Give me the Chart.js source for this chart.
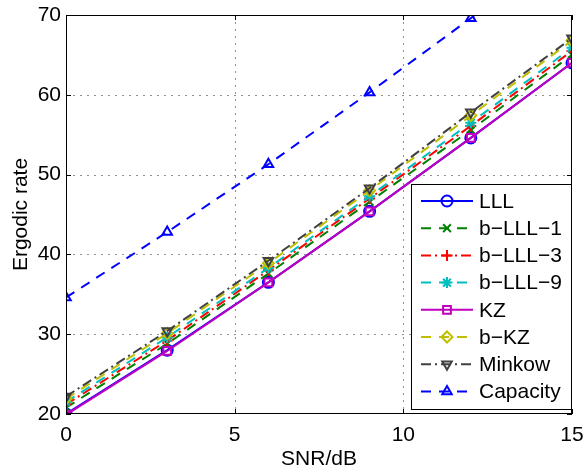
<!DOCTYPE html>
<html>
<head>
<meta charset="utf-8">
<script src="https://cdn.jsdelivr.net/npm/chart.js@4"></script>
<style>
  html, body { margin: 0; padding: 0; background: #fff; }
  #wrap { width: 585px; height: 472px; }
</style>
</head>
<body>
<div id="wrap"><canvas id="rate-chart" width="585" height="472"></canvas></div>
<script>
// SNR points (dB)
const snr = [0, 3, 6, 9, 12, 15];

// ergodic rate per detector
const lll      = [20.0, 28.0, 36.5, 45.4, 54.6, 64.0];
const blll1    = [20.8, 28.8, 37.6, 46.6, 55.6, 65.0];
const blll3    = [21.2, 29.2, 38.0, 47.0, 56.1, 65.5];
const blll9    = [21.5, 29.6, 38.3, 47.3, 56.5, 65.9];
const kz       = [19.9, 27.9, 36.5, 45.4, 54.6, 64.0];
const bkz      = [21.9, 30.1, 38.9, 48.0, 57.4, 66.8];
const minkow   = [22.2, 30.4, 39.2, 48.3, 57.8, 67.1];
const capacity = [34.6, 42.8, 51.3, 60.3, 69.6, 78.8];

const names = ['LLL', 'b\u2212LLL\u22121', 'b\u2212LLL\u22123', 'b\u2212LLL\u22129', 'KZ', 'b\u2212KZ', 'Minkow', 'Capacity'];
const xTicks = [0, 5, 10, 15];
const yTicks = [20, 30, 40, 50, 60, 70];

const FONT = 'Liberation Sans, Arial, Helvetica, sans-serif';
const FSIZE = 21;

const styles = [
    { color: '#0000ff', dash: [],             point: 'circle',   rot: 0 },
    { color: '#008000', dash: [10, 8],        point: 'crossRot', rot: 0 },
    { color: '#ff0000', dash: [10, 4, 2, 4],  point: 'cross',    rot: 0 },
    { color: '#00bfbf', dash: [10, 8],        point: 'star',     rot: 0 },
    { color: '#bf00bf', dash: [],             point: 'rect',     rot: 0 },
    { color: '#bfbf00', dash: [10, 8],        point: 'rectRot',  rot: 0 },
    { color: '#404040', dash: [10, 4, 2, 4],  point: 'triangle', rot: 180 },
    { color: '#0000ff', dash: [10, 8],        point: 'triangle', rot: 0 }
];

const series = [lll, blll1, blll3, blll9, kz, bkz, minkow, capacity];

const datasets = series.map((vals, i) => ({
    label: names[i],
    data: snr.map((x, j) => ({ x: x, y: vals[j] })),
    borderColor: styles[i].color,
    pointBorderColor: styles[i].color,
    backgroundColor: 'rgba(0,0,0,0)',
    pointBackgroundColor: 'rgba(0,0,0,0)',
    borderWidth: 2,
    pointBorderWidth: 2,
    borderDash: styles[i].dash,
    pointStyle: styles[i].point,
    pointRotation: styles[i].rot,
    pointRadius: 5.5,
    tension: 0,
    order: series.length - i
}));

// dotted grid, box frame, inward ticks and the in-plot legend
const matlabLook = {
    id: 'matlabLook',
    beforeDatasetsDraw(chart) {
        const ctx = chart.ctx;
        const a = chart.chartArea;
        const sx = chart.scales.x, sy = chart.scales.y;
        ctx.save();
        ctx.strokeStyle = '#909090';
        ctx.lineWidth = 1;
        ctx.setLineDash([2, 5]);
        ctx.beginPath();
        xTicks.slice(1, -1).forEach(t => {
            const px = Math.round(sx.getPixelForValue(t)) + 0.5;
            ctx.moveTo(px, a.top); ctx.lineTo(px, a.bottom);
        });
        yTicks.slice(1, -1).forEach(t => {
            const py = Math.round(sy.getPixelForValue(t)) + 0.5;
            ctx.moveTo(a.left, py); ctx.lineTo(a.right, py);
        });
        ctx.stroke();
        ctx.restore();
    },
    afterDraw(chart) {
        const ctx = chart.ctx;
        const a = chart.chartArea;
        const sx = chart.scales.x, sy = chart.scales.y;
        ctx.save();
        ctx.strokeStyle = '#000';
        ctx.lineWidth = 1;
        ctx.setLineDash([]);
        ctx.strokeRect(a.left + 0.5, a.top + 0.5, a.right - a.left - 1, a.bottom - a.top - 1);
        ctx.beginPath();
        xTicks.forEach(t => {
            const px = Math.round(sx.getPixelForValue(t)) + 0.5;
            ctx.moveTo(px, a.bottom); ctx.lineTo(px, a.bottom - 5);
            ctx.moveTo(px, a.top); ctx.lineTo(px, a.top + 5);
        });
        yTicks.forEach(t => {
            const py = Math.round(sy.getPixelForValue(t)) + 0.5;
            ctx.moveTo(a.left, py); ctx.lineTo(a.left + 5, py);
            ctx.moveTo(a.right, py); ctx.lineTo(a.right - 5, py);
        });
        ctx.stroke();

        // legend box
        const bx = 411, by = 184, bw = 160, bh = 225;
        ctx.fillStyle = '#fff';
        ctx.fillRect(bx, by, bw, bh);
        ctx.strokeRect(bx + 0.5, by + 0.5, bw, bh);
        ctx.font = FSIZE + 'px ' + FONT;
        ctx.textBaseline = 'middle';
        chart.data.datasets.forEach((ds, i) => {
            const y = by + 17 + i * 27.2;
            ctx.strokeStyle = ds.borderColor;
            ctx.lineWidth = 2;
            ctx.setLineDash(ds.borderDash);
            ctx.beginPath();
            ctx.moveTo(bx + 10, y);
            ctx.lineTo(bx + 62, y);
            ctx.stroke();
            ctx.setLineDash([]);
            ctx.fillStyle = 'rgba(0,0,0,0)';
            if (Chart.helpers && Chart.helpers.drawPoint) {
                Chart.helpers.drawPoint(ctx, {
                    pointStyle: ds.pointStyle, rotation: ds.pointRotation,
                    radius: ds.pointRadius, borderWidth: 2
                }, bx + 36, y);
            }
            ctx.fillStyle = '#000';
            ctx.fillText(ds.label, bx + 68, y + 1);
        });
        ctx.restore();
    }
};

new Chart(document.getElementById('rate-chart').getContext('2d'), {
    type: 'line',
    data: { datasets: datasets },
    plugins: [matlabLook],
    options: {
        responsive: false,
        animation: false,
        layout: { padding: { top: 15, right: 13, left: 0, bottom: 0 } },
        plugins: {
            legend: { display: false },
            tooltip: { enabled: false }
        },
        scales: {
            x: {
                type: 'linear',
                min: 0,
                max: 15,
                afterBuildTicks: s => { s.ticks = xTicks.map(v => ({ value: v })); },
                afterFit: s => { s.height = 58; s.paddingLeft = 0; s.paddingRight = 0; },
                ticks: { color: '#000', font: { family: FONT, size: FSIZE }, padding: 9, maxRotation: 0 },
                grid: { display: false, drawTicks: false },
                border: { display: false },
                title: { display: true, text: 'SNR/dB', color: '#000', font: { family: FONT, size: FSIZE }, padding: { top: -4, bottom: 0 } }
            },
            y: {
                min: 20,
                max: 70,
                afterBuildTicks: s => { s.ticks = yTicks.map(v => ({ value: v })); },
                afterFit: s => { s.width = 66; s.paddingTop = 0; s.paddingBottom = 0; },
                ticks: { color: '#000', font: { family: FONT, size: FSIZE }, padding: 5 },
                grid: { display: false, drawTicks: false },
                border: { display: false },
                title: { display: true, text: 'Ergodic rate', color: '#000', font: { family: FONT, size: 21 }, padding: { top: 9, bottom: 0 } }
            }
        }
    }
});
</script>
</body>
</html>
